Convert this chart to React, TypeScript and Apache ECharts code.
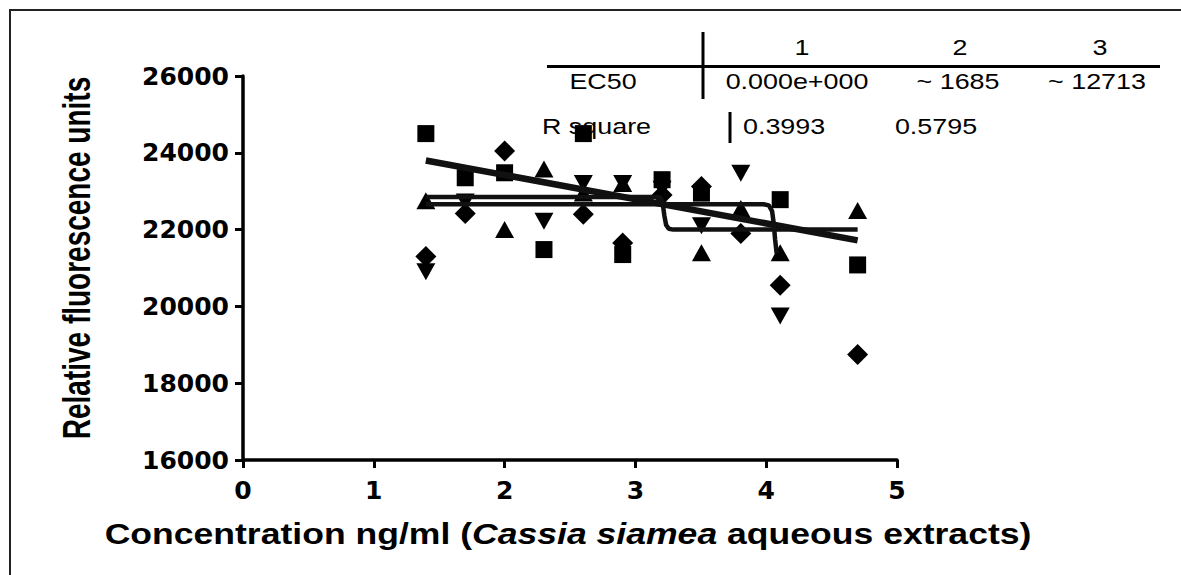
import React, { useEffect, useRef } from 'react';
import * as echarts from 'echarts';

// log10 concentrations (25 ... 50000 ng/ml)
const xValues = [1.398, 1.699, 2.0, 2.301, 2.602, 2.903, 3.204, 3.505, 3.806, 4.107, 4.699];
const squares = [24500, 23350, 23480, 21480, 24500, 21350, 23300, 22950, null, 22780, 21080];
const trianglesUp = [22750, null, 22000, 23580, 22950, 23200, null, 21400, 22550, 21400, 22500];
const trianglesDown = [20900, 22720, null, 22220, 23200, 23200, 23050, 22100, 23470, 19750, null];
const diamonds = [21300, 22420, 24050, null, 22400, 21650, 22900, 23120, 21900, 20550, 18750];

const linearFit = [[1.398, 23800], [4.699, 21720]];
const curveA = [[1.398, 22850], [3.17, 22850], [3.195, 22820], [3.21, 22650], [3.222, 22350], [3.235, 22120], [3.255, 22020], [3.29, 22000], [4.699, 22000]];
const curveB = [[1.398, 22660], [3.98, 22660], [4.02, 22630], [4.045, 22480], [4.058, 22150], [4.068, 21750], [4.08, 21380]];

const tableHeader = ['1', '2', '3'];
const ec50Values = ['0.000e+000', '~ 1685', '~ 12713'];
const rSquareValues = ['0.3993', '0.5795'];

const yTitle = 'Relative fluorescence units';

const pair = (ys: (number | null)[]) => xValues.map((x, i) => [x, ys[i]]).filter((p) => p[1] != null);

const tableFont = { fontSize: 21, fontFamily: 'Liberation Sans, Arial, sans-serif', fill: '#000' };

function txt(text: string, x: number, y: number, align = 'center') {
  return {
    type: 'text',
    x,
    y,
    scaleX: 1.28,
    scaleY: 1.08,
    z: 1,
    style: { text, ...tableFont, align, textAlign: align, verticalAlign: 'middle', textVerticalAlign: 'middle' },
  };
}

function ln(x1: number, y1: number, x2: number, y2: number, w = 3, c = '#000') {
  return { type: 'line', z: 1, shape: { x1, y1, x2, y2 }, style: { stroke: c, lineWidth: w } };
}

export default function App() {
  const ref = useRef<HTMLDivElement>(null);
  useEffect(() => {
    const chart = echarts.init(ref.current!, null, { renderer: 'svg' });
    const markerSeries = (name: string, data: any[], symbol: string, size: any, rotate = 0) => ({
      name,
      type: 'scatter',
      data,
      symbol,
      symbolSize: size,
      symbolRotate: rotate,
      itemStyle: { color: '#000', opacity: 1 },
      z: 3,
    });
    const lineSeries = (name: string, data: any[], width: number) => ({
      name,
      type: 'line',
      data,
      showSymbol: false,
      symbol: 'none',
      smooth: false,
      lineStyle: { color: '#111', width },
      z: 4,
    });
    chart.setOption({
      animation: false,
      backgroundColor: '#fff',
      grid: { left: 243, right: 284, top: 76, bottom: 115 },
      xAxis: {
        type: 'value',
        min: 0,
        max: 5,
        interval: 1,
        axisLine: { show: true, onZero: false, lineStyle: { color: '#000', width: 3.5 } },
        axisTick: { show: true, length: 8, lineStyle: { color: '#000', width: 3 } },
        axisLabel: { color: '#000', fontSize: 25, fontWeight: 'bold', fontFamily: 'DejaVu Sans', margin: 18 },
        splitLine: { show: false },
      },
      yAxis: {
        type: 'value',
        min: 16000,
        max: 26000,
        interval: 2000,
        axisLine: { show: true, onZero: false, lineStyle: { color: '#000', width: 3.5 } },
        axisTick: { show: true, length: 8, lineStyle: { color: '#000', width: 3 } },
        axisLabel: {
          color: '#000',
          fontSize: 25,
          fontWeight: 'bold',
          fontFamily: 'DejaVu Sans',
          margin: 14,
          formatter: (v: number) => String(v),
        },
        splitLine: { show: false },
      },
      series: [
        lineSeries('Linear fit', linearFit, 6.5),
        lineSeries('Fit 2', curveA, 4.5),
        lineSeries('Fit 3', curveB, 4.5),
        markerSeries('Set A', pair(squares), 'rect', 17),
        markerSeries('Set B', pair(trianglesUp), 'triangle', [19, 17]),
        markerSeries('Set C', pair(trianglesDown), 'triangle', [19, 17], 180),
        markerSeries('Set D', pair(diamonds), 'diamond', [21, 21]),
      ],
      graphic: [
        {
          type: 'rect',
          z: 1,
          shape: { x: 10, y: 10, width: 1300, height: 700 },
          style: { fill: 'none', stroke: '#222', lineWidth: 2 },
        },
        ln(547, 66.5, 1160, 66.5),
        ln(703, 32, 703, 99),
        ln(730, 112, 730, 143),
        txt(tableHeader[0], 802, 47),
        txt(tableHeader[1], 960, 47),
        txt(tableHeader[2], 1100, 47),
        txt('EC50', 603, 81),
        txt(ec50Values[0], 797, 81),
        txt(ec50Values[1], 958, 81),
        txt(ec50Values[2], 1097, 81),
        txt('R square', 542, 126, 'left'),
        txt(rSquareValues[0], 743, 126, 'left'),
        txt(rSquareValues[1], 936, 126),
        {
          type: 'text',
          x: 76,
          y: 258,
          rotation: Math.PI / 2,
          scaleY: 1.4,
          z: 1,
          style: {
            text: yTitle,
            fontSize: 28,
            fontWeight: 'bold',
            fontFamily: 'Liberation Sans, Arial, sans-serif',
            fill: '#000',
            align: 'center',
            textAlign: 'center',
            verticalAlign: 'middle',
            textVerticalAlign: 'middle',
          },
        },
        {
          type: 'text',
          x: 568,
          y: 533,
          scaleX: 1.27,
          scaleY: 1.08,
          z: 1,
          style: {
            text: '{a|Concentration ng/ml (}{b|Cassia siamea}{a| aqueous extracts)}',
            align: 'center',
            textAlign: 'center',
            verticalAlign: 'middle',
            textVerticalAlign: 'middle',
            rich: {
              a: { fontSize: 28, fontWeight: 'bold', fontFamily: 'Liberation Sans, Arial, sans-serif', fill: '#000' },
              b: { fontSize: 28, fontWeight: 'bold', fontStyle: 'italic', fontFamily: 'Liberation Sans, Arial, sans-serif', fill: '#000' },
            },
          },
        },
      ],
    });
    return () => chart.dispose();
  }, []);
  return (
    <div
      ref={ref}
      style={{ position: 'fixed', left: 0, top: 0, width: 1181, height: 575, background: '#fff' }}
    />
  );
}
